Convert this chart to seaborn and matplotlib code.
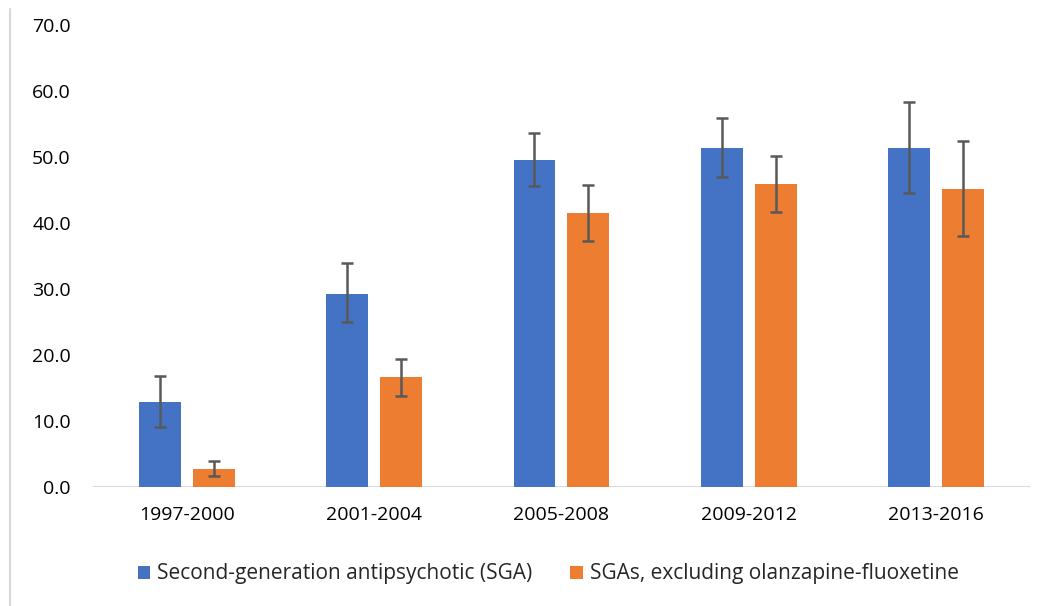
import matplotlib
matplotlib.use("Agg")
import matplotlib.pyplot as plt
from matplotlib.lines import Line2D
import pandas as pd
import seaborn as sns

periods = ["1997-2000", "2001-2004", "2005-2008", "2009-2012", "2013-2016"]
series_names = ["Second-generation antipsychotic (SGA)", "SGAs, excluding olanzapine-fluoxetine"]
sga = [12.9, 29.3, 49.5, 51.4, 51.4]
sga_lo = [9.1, 25.0, 45.6, 47.0, 44.5]
sga_hi = [16.8, 33.9, 53.6, 55.9, 58.4]
excl = [2.7, 16.6, 41.5, 45.9, 45.2]
excl_lo = [1.6, 13.8, 37.3, 41.7, 38.0]
excl_hi = [4.0, 19.4, 45.7, 50.2, 52.5]
colors = ["#4472C4", "#ED7D31"]

df = pd.DataFrame({
    "period": periods * 2,
    "series": [series_names[0]] * len(periods) + [series_names[1]] * len(periods),
    "value": sga + excl,
    "lo": sga_lo + excl_lo,
    "hi": sga_hi + excl_hi,
})

sns.set_theme(style="white")
plt.rcParams["font.family"] = ["Open Sans", "DejaVu Sans"]

fig = plt.figure(figsize=(10.55, 6.06), dpi=100)
ax = fig.add_axes([0.0882, 0.1964, 0.8878, 0.7623])

sns.barplot(data=df, x="period", y="value", hue="series", order=periods,
            hue_order=series_names, palette=colors, width=0.574, gap=0.22,
            errorbar=None, ax=ax, saturation=1, linewidth=0)

# error bars placed at the bar centres seaborn drew
for bar, (_, row) in zip(ax.patches, df.iterrows()):
    xc = bar.get_x() + bar.get_width() / 2
    ax.errorbar(xc, row["value"],
                yerr=[[row["value"] - row["lo"]], [row["hi"] - row["value"]]],
                fmt="none", ecolor="#595959", elinewidth=1.8, capsize=4.5, capthick=1.8)

ax.set_xlim(-0.5, 4.5)
ax.set_ylim(0, 70)
ax.set_yticks(range(0, 71, 10))
ax.set_yticklabels([f"{v:.1f}" for v in range(0, 71, 10)])
ax.set_xlabel("")
ax.set_ylabel("")
for s in ax.spines.values():
    s.set_visible(False)
ax.axhline(0, color="#D9D9D9", linewidth=1.5, zorder=0)
ax.tick_params(axis="both", length=0, labelsize=14, colors="#000000")
ax.tick_params(axis="y", pad=16)
ax.tick_params(axis="x", pad=14)

ax.legend(loc="upper center", bbox_to_anchor=(0.486, -0.125), ncol=2, frameon=False,
          fontsize=15, handlelength=0.6, handleheight=0.6, handletextpad=0.35,
          columnspacing=1.8)

fig.add_artist(Line2D([0.0095, 0.0095], [0.0, 0.985], color="#D9D9D9", linewidth=1.5))

fig.savefig("out.png", dpi=100)
